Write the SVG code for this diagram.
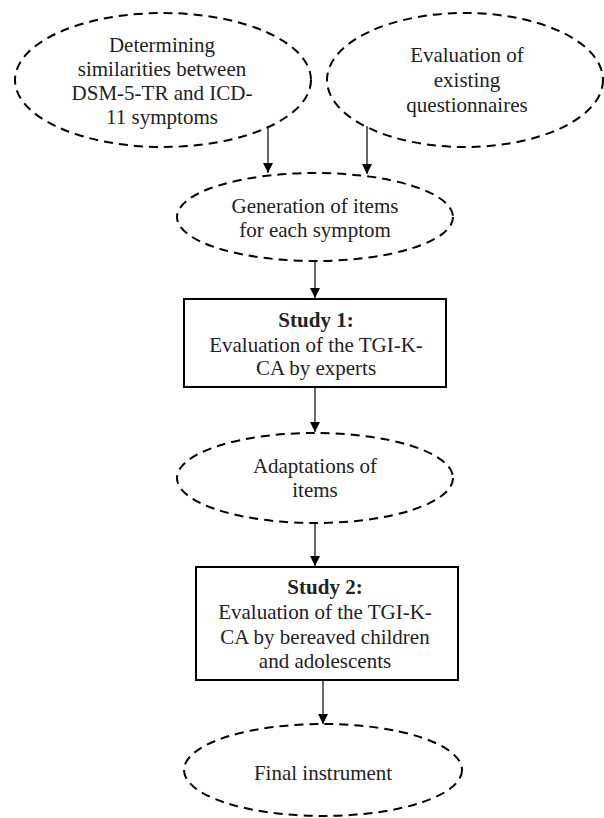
<svg xmlns="http://www.w3.org/2000/svg" width="604" height="818" viewBox="0 0 604 818">
<style>
.dash{fill:none;stroke:#000;stroke-width:2;stroke-dasharray:9 6}
.box{fill:#fff;stroke:#000;stroke-width:2}
.t{font-family:"Liberation Serif","Times New Roman",serif;font-size:21px;fill:#222;text-anchor:middle}
.b{font-weight:bold}
.c{stroke:#000;stroke-width:1.2;fill:none}
</style>
<defs>
<marker id="ah" viewBox="0 0 10 10" refX="10" refY="5" markerWidth="10" markerHeight="10" markerUnits="userSpaceOnUse" orient="auto">
<path d="M0,0 L10,5 L0,10 z" fill="#000"/>
</marker>
</defs>
<rect width="604" height="818" fill="#fff"/>
<g id="connectors">
<line class="c" x1="268" y1="126" x2="268" y2="173" marker-end="url(#ah)"/>
<line class="c" x1="367" y1="126" x2="367" y2="174" marker-end="url(#ah)"/>
<line class="c" x1="315" y1="262" x2="315" y2="298" marker-end="url(#ah)"/>
<line class="c" x1="315" y1="388" x2="315" y2="432" marker-end="url(#ah)"/>
<line class="c" x1="315" y1="523" x2="315" y2="566" marker-end="url(#ah)"/>
<line class="c" x1="323" y1="681" x2="323" y2="724" marker-end="url(#ah)"/>
</g>
<g id="n1">
<ellipse class="dash" cx="163" cy="80" rx="148" ry="67"/>
<text class="t" x="162" y="52">Determining</text>
<text class="t" x="162" y="76">similarities between</text>
<text class="t" x="162" y="100">DSM-5-TR and ICD-</text>
<text class="t" x="162" y="124">11 symptoms</text>
</g>
<g id="n2">
<ellipse class="dash" cx="465" cy="80" rx="138" ry="67"/>
<text class="t" x="467" y="62">Evaluation of</text>
<text class="t" x="467" y="87">existing</text>
<text class="t" x="467" y="112">questionnaires</text>
</g>
<g id="n3">
<ellipse class="dash" cx="315" cy="217" rx="138" ry="44"/>
<text class="t" x="315" y="213">Generation of items</text>
<text class="t" x="315" y="237">for each symptom</text>
</g>
<g id="n4">
<rect class="box" x="184" y="299" width="262" height="88"/>
<text class="t b" x="316" y="327">Study 1:</text>
<text class="t" x="316" y="352">Evaluation of the TGI-K-</text>
<text class="t" x="316" y="375">CA by experts</text>
</g>
<g id="n5">
<ellipse class="dash" cx="315" cy="478" rx="138" ry="45"/>
<text class="t" x="315" y="473">Adaptations of</text>
<text class="t" x="315" y="497">items</text>
</g>
<g id="n6">
<rect class="box" x="196" y="567" width="262" height="113"/>
<text class="t b" x="325" y="594">Study 2:</text>
<text class="t" x="325" y="619">Evaluation of the TGI-K-</text>
<text class="t" x="325" y="644">CA by bereaved children</text>
<text class="t" x="325" y="668">and adolescents</text>
</g>
<g id="n7">
<ellipse class="dash" cx="323" cy="770" rx="139" ry="46"/>
<text class="t" x="323" y="780">Final instrument</text>
</g>
</svg>
